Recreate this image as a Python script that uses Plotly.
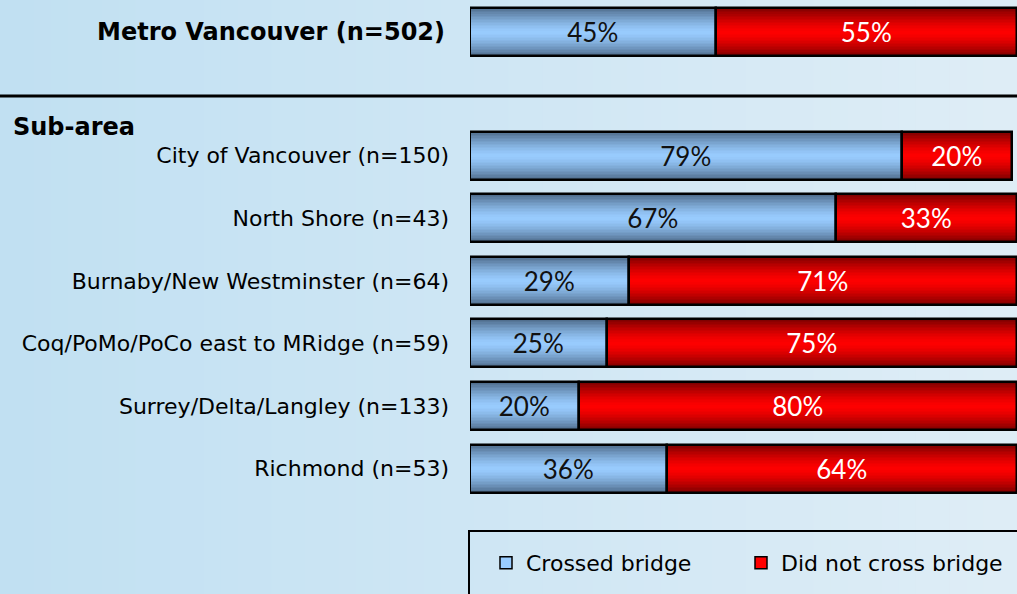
import plotly.graph_objects as go

# ---------------- data ----------------
metro_label = "Metro Vancouver (n=502)"
section_title = "Sub-area"
categories = [
    "City of Vancouver (n=150)",
    "North Shore (n=43)",
    "Burnaby/New Westminster (n=64)",
    "Coq/PoMo/PoCo east to MRidge (n=59)",
    "Surrey/Delta/Langley (n=133)",
    "Richmond (n=53)",
]
metro_crossed = 45
metro_not_crossed = 55
crossed = [79, 67, 29, 25, 20, 36]
not_crossed = [20, 33, 71, 75, 80, 64]
series_names = ["Crossed bridge", "Did not cross bridge"]

# ---------------- layout helpers ----------------
W_PX, H_PX = 1017, 594
GAP = 1.975
positions = [0] + [GAP + i for i in range(len(categories))]
all_crossed = [metro_crossed] + crossed
all_not = [metro_not_crossed] + not_crossed
base_not = all_crossed

BAR_W = 0.767
blue_mid, blue_edge = (153, 204, 255), (80, 110, 142)
red_mid, red_edge = (255, 0, 0), (128, 0, 0)


def lerp(c1, c2, t):
    return "rgb(%d,%d,%d)" % tuple(round(a + (b - a) * t) for a, b in zip(c1, c2))


fig = go.Figure()

N = 16
for k in range(N):
    frac = 1 - k / N
    t = frac ** 1.5
    fig.add_trace(go.Bar(
        x=all_crossed, y=positions, base=[0] * len(positions), orientation="h",
        width=BAR_W * frac, marker=dict(color=lerp(blue_mid, blue_edge, t), line=dict(width=0)),
        showlegend=False, hoverinfo="skip"))
    fig.add_trace(go.Bar(
        x=all_not, y=positions, base=base_not, orientation="h",
        width=BAR_W * frac, marker=dict(color=lerp(red_mid, red_edge, t), line=dict(width=0)),
        showlegend=False, hoverinfo="skip"))

# outlines + labels
fig.add_trace(go.Bar(
    x=all_crossed, y=positions, base=[0] * len(positions), orientation="h", width=BAR_W,
    marker=dict(color="rgba(0,0,0,0)", line=dict(color="black", width=2.5)),
    text=[f"{v}%" for v in all_crossed], textposition="inside", insidetextanchor="middle",
    textangle=0, constraintext="none",
    textfont=dict(family="Lato", size=26, color="#111111"), showlegend=False))
fig.add_trace(go.Bar(
    x=all_not, y=positions, base=base_not, orientation="h", width=BAR_W,
    marker=dict(color="rgba(0,0,0,0)", line=dict(color="black", width=2.5)),
    text=[f"{v}%" for v in all_not], textposition="inside", insidetextanchor="middle",
    textangle=0, constraintext="none",
    textfont=dict(family="Lato", size=26, color="white"), showlegend=False))

# legend entries (one legend each, so they can be placed independently)
fig.add_trace(go.Bar(x=[None], y=[None], orientation="h", name=series_names[0], legend="legend",
                     marker=dict(color="rgb(153,204,255)", line=dict(color="black", width=1.5))))
fig.add_trace(go.Bar(x=[None], y=[None], orientation="h", name=series_names[1], legend="legend2",
                     marker=dict(color="rgb(255,0,0)", line=dict(color="black", width=1.5))))

# background gradient strips
shapes = []
NS = 60
c_left, c_right = (193, 224, 242), (222, 237, 246)
for i in range(NS):
    shapes.append(dict(type="rect", xref="paper", yref="paper",
                       x0=i / NS, x1=(i + 1) / NS + 0.002, y0=0, y1=1,
                       fillcolor=lerp(c_left, c_right, i / (NS - 1)),
                       line=dict(width=0), layer="below"))
# divider line
shapes.append(dict(type="line", xref="paper", yref="paper", x0=0, x1=1,
                   y0=1 - 96 / H_PX, y1=1 - 96 / H_PX, line=dict(color="black", width=3)))
# legend box
shapes.append(dict(type="rect", xref="paper", yref="paper",
                   x0=469 / W_PX, x1=1.01, y0=-0.01, y1=1 - 531 / H_PX,
                   line=dict(color="black", width=2), fillcolor="rgba(0,0,0,0)"))

y_top = -32 / 62.6
y_bot = (H_PX - 32) / 62.6

legend_common = dict(orientation="h", xanchor="left", y=1 - 563 / H_PX,
                     yanchor="middle", bgcolor="rgba(0,0,0,0)", borderwidth=0,
                     font=dict(family="DejaVu Sans", size=22, color="black"))

fig.update_layout(
    width=W_PX, height=H_PX,
    margin=dict(l=0, r=0, t=0, b=0),
    paper_bgcolor="rgb(208,230,243)", plot_bgcolor="rgba(0,0,0,0)",
    barmode="overlay", bargap=0,
    font=dict(family="DejaVu Sans", size=22, color="black"),
    xaxis=dict(domain=[470 / W_PX, 1], range=[0, 100], showgrid=False, zeroline=False,
               showticklabels=False, showline=False, fixedrange=True),
    yaxis=dict(range=[y_bot, y_top], tickvals=positions[1:], ticktext=categories,
               showgrid=False, zeroline=False, showline=False, ticks="",
               ticklabelstandoff=20, automargin=False,
               tickfont=dict(family="DejaVu Sans", size=22, color="black")),
    shapes=shapes,
    showlegend=True,
    legend=dict(x=486 / W_PX, **legend_common),
    legend2=dict(x=741 / W_PX, **legend_common),
    annotations=[
        dict(text=f"<b>{metro_label}</b>", x=447 / W_PX, xref="paper", y=0, yref="y",
             xanchor="right", yanchor="middle", showarrow=False,
             font=dict(family="DejaVu Sans", size=24, color="black")),
        dict(text=f"<b>{section_title}</b>", x=11 / W_PX, xref="paper", y=1 - 127 / H_PX,
             yref="paper", xanchor="left", yanchor="middle", showarrow=False,
             font=dict(family="DejaVu Sans", size=24, color="black")),
    ],
)

fig.write_html("out.html")
